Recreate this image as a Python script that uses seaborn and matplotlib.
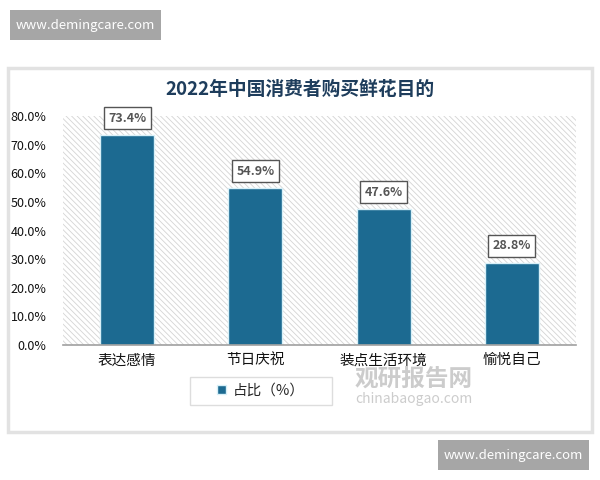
import seaborn as sns
import pandas as pd
import matplotlib.pyplot as plt
from matplotlib.patches import Rectangle
from matplotlib.ticker import FuncFormatter, MultipleLocator

# data
categories = ["表达感情", "节日庆祝", "装点生活环境", "愉悦自己"]
shares = [73.4, 54.9, 47.6, 28.8]
series_name = "占比（%）"
title = "2022年中国消费者购买鲜花目的"

df = pd.DataFrame({"cat": categories, "val": shares})

sns.set_theme(style="white")
plt.rcParams['font.family'] = ['Noto Sans CJK SC', 'DejaVu Sans']
plt.rcParams['hatch.color'] = '#d4d4d4'
plt.rcParams['hatch.linewidth'] = 0.6

bar_color = "#1c6a91"

fig = plt.figure(figsize=(6, 4.8), dpi=100)
fig.patch.set_facecolor("white")

# card behind the chart
fig.patches.append(Rectangle((8 / 600, 1 - 432 / 480), 584 / 600, 364 / 480,
                             transform=fig.transFigure, facecolor="white",
                             edgecolor="#e2e2e2", linewidth=2.5, zorder=-10))

ax = fig.add_axes([63 / 600, 1 - 345 / 480, 513 / 600, 229 / 480])
ax.set_zorder(1)
ax.patch.set_facecolor("white")
ax.patch.set_edgecolor("#d4d4d4")
ax.patch.set_hatch("\\\\\\\\\\\\")
ax.patch.set_linewidth(0)

sns.barplot(data=df, x="cat", y="val", color=bar_color, width=0.42,
            edgecolor="#d8f0f8", linewidth=1.0, saturation=1, ax=ax,
            label=series_name)

ax.set_ylim(0, 80)
ax.set_xlim(-0.5, 3.5)
ax.yaxis.set_major_locator(MultipleLocator(10))
ax.yaxis.set_major_formatter(FuncFormatter(lambda v, p: f"{v:.1f}%"))
ax.set_xlabel("")
ax.set_ylabel("")
for s in ["top", "right", "left"]:
    ax.spines[s].set_visible(False)
ax.spines["bottom"].set_color("#a0a0a0")
ax.spines["bottom"].set_linewidth(1.2)
ax.tick_params(axis="y", length=0, labelsize=9, colors="#111111", pad=12)
ax.tick_params(axis="x", length=0, labelsize=10.5, colors="#111111", pad=6)

for i, v in enumerate(shares):
    ax.annotate(f"{v:.1f}%", (i, v), xytext=(0, 12), textcoords="offset points",
                ha="center", va="center", fontsize=9, fontweight="bold",
                color="#555555",
                bbox=dict(boxstyle="square,pad=0.35", fc="white", ec="#555555", lw=1))

fig.text(0.5, 1 - 89 / 480, title, ha="center", va="center", fontsize=13.5,
         fontweight="bold", color="#1e3d5c")

# legend box drawn separately so it can be wider than its content
fig.patches.append(Rectangle((190 / 600, 1 - 405 / 480), 142 / 600, 28 / 480,
                             transform=fig.transFigure, facecolor="white",
                             edgecolor="#dddddd", linewidth=1, zorder=2))
handles, labels = ax.get_legend_handles_labels()
if ax.get_legend() is not None:
    ax.get_legend().remove()
leg = fig.legend(handles, labels, loc="center", bbox_to_anchor=(261 / 600, 1 - 391 / 480),
                 frameon=False, fontsize=10.5, handlelength=0.6, handleheight=0.6,
                 handletextpad=0.5, borderpad=0.2)
leg.set_zorder(3)

# faint source watermark
fig.text(414 / 600, 1 - 379 / 480, "观研报告网", ha="center", va="center",
         fontsize=17, fontweight="bold", color="#c0c0c0", alpha=0.8, zorder=4)
fig.text(414 / 600, 1 - 399 / 480, "chinabaogao.com", ha="center", va="center",
         fontsize=10, color="#c0c0c0", alpha=0.8, zorder=4)

# site stamps
for (x0, y0) in [(10, 10), (438, 440)]:
    fig.patches.append(Rectangle((x0 / 600, 1 - (y0 + 30) / 480), 151 / 600, 30 / 480,
                                 transform=fig.transFigure, facecolor="#a6a6a6",
                                 edgecolor="none", zorder=5))
    fig.text((x0 + 75.5) / 600, 1 - (y0 + 15) / 480, "www.demingcare.com",
             ha="center", va="center", fontsize=9.5, color="white", zorder=6)

fig.savefig("out.png", dpi=100)
